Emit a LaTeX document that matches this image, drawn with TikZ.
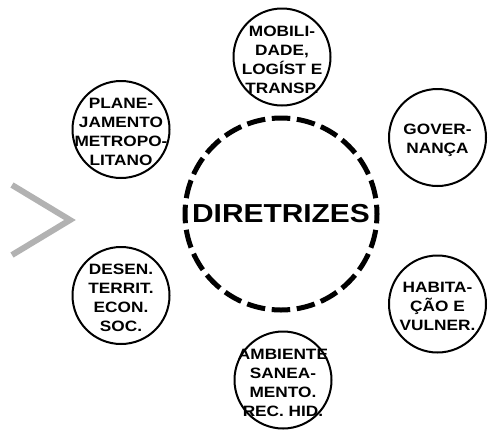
\documentclass[tikz,border=0pt]{standalone}
\usepackage{fontspec}
\setmainfont{Liberation Sans}
\newfontfamily\widesans{Liberation Sans}[FakeStretch=1.15]
\definecolor{chevgray}{RGB}{178,178,178}
\tikzset{
  bubble/.style={circle,draw,line width=2pt,minimum size=97pt,inner sep=0pt},
  bubtext/.style={align=center,font=\widesans\bfseries\fontsize{15}{19}\selectfont,yshift=-2.5pt},
  hub/.style={circle,draw,line width=5pt,dash pattern=on 18.5pt off 6.63pt,dash phase=9.25pt,
    minimum size=192pt,inner sep=0pt,font=\widesans\bfseries\fontsize{26}{30}\selectfont}
}

\begin{document}
\begin{tikzpicture}[x=1pt,y=-1pt]
\useasboundingbox (0,0) rectangle (489,429);
\node[hub] (dir) at (281,214) {DIRETRIZES};
\node[bubble] (mob) at (282,57) {};
\node[bubtext] (mobtxt) at (mob) {MOBILI-\\DADE,\\LOGÍST E\\TRANSP.};
\node[bubble] (plan) at (121,129.5) {};
\node[bubtext] (plantxt) at (plan) {PLANE-\\JAMENTO\\METROPO-\\LITANO};
\node[bubble] (gov) at (437.5,137.5) {};
\node[bubtext] (govtxt) at (gov) {GOVER-\\NANÇA};
\node[bubble] (des) at (121,295.5) {};
\node[bubtext] (destxt) at (des) {DESEN.\\TERRIT.\\ECON.\\SOC.};
\node[bubble] (hab) at (437.5,304) {};
\node[bubtext] (habtxt) at (hab) {HABITA-\\ÇÃO E\\VULNER.};
\node[bubble] (amb) at (283,380) {};
\node[bubtext] (ambtxt) at (amb) {AMBIENTE\\SANEA-\\MENTO.\\REC. HID.};
% seta cinza
\draw[chevgray,line width=6pt] (12,185) -- (70,220) -- (12,255);
\end{tikzpicture}
\end{document}
